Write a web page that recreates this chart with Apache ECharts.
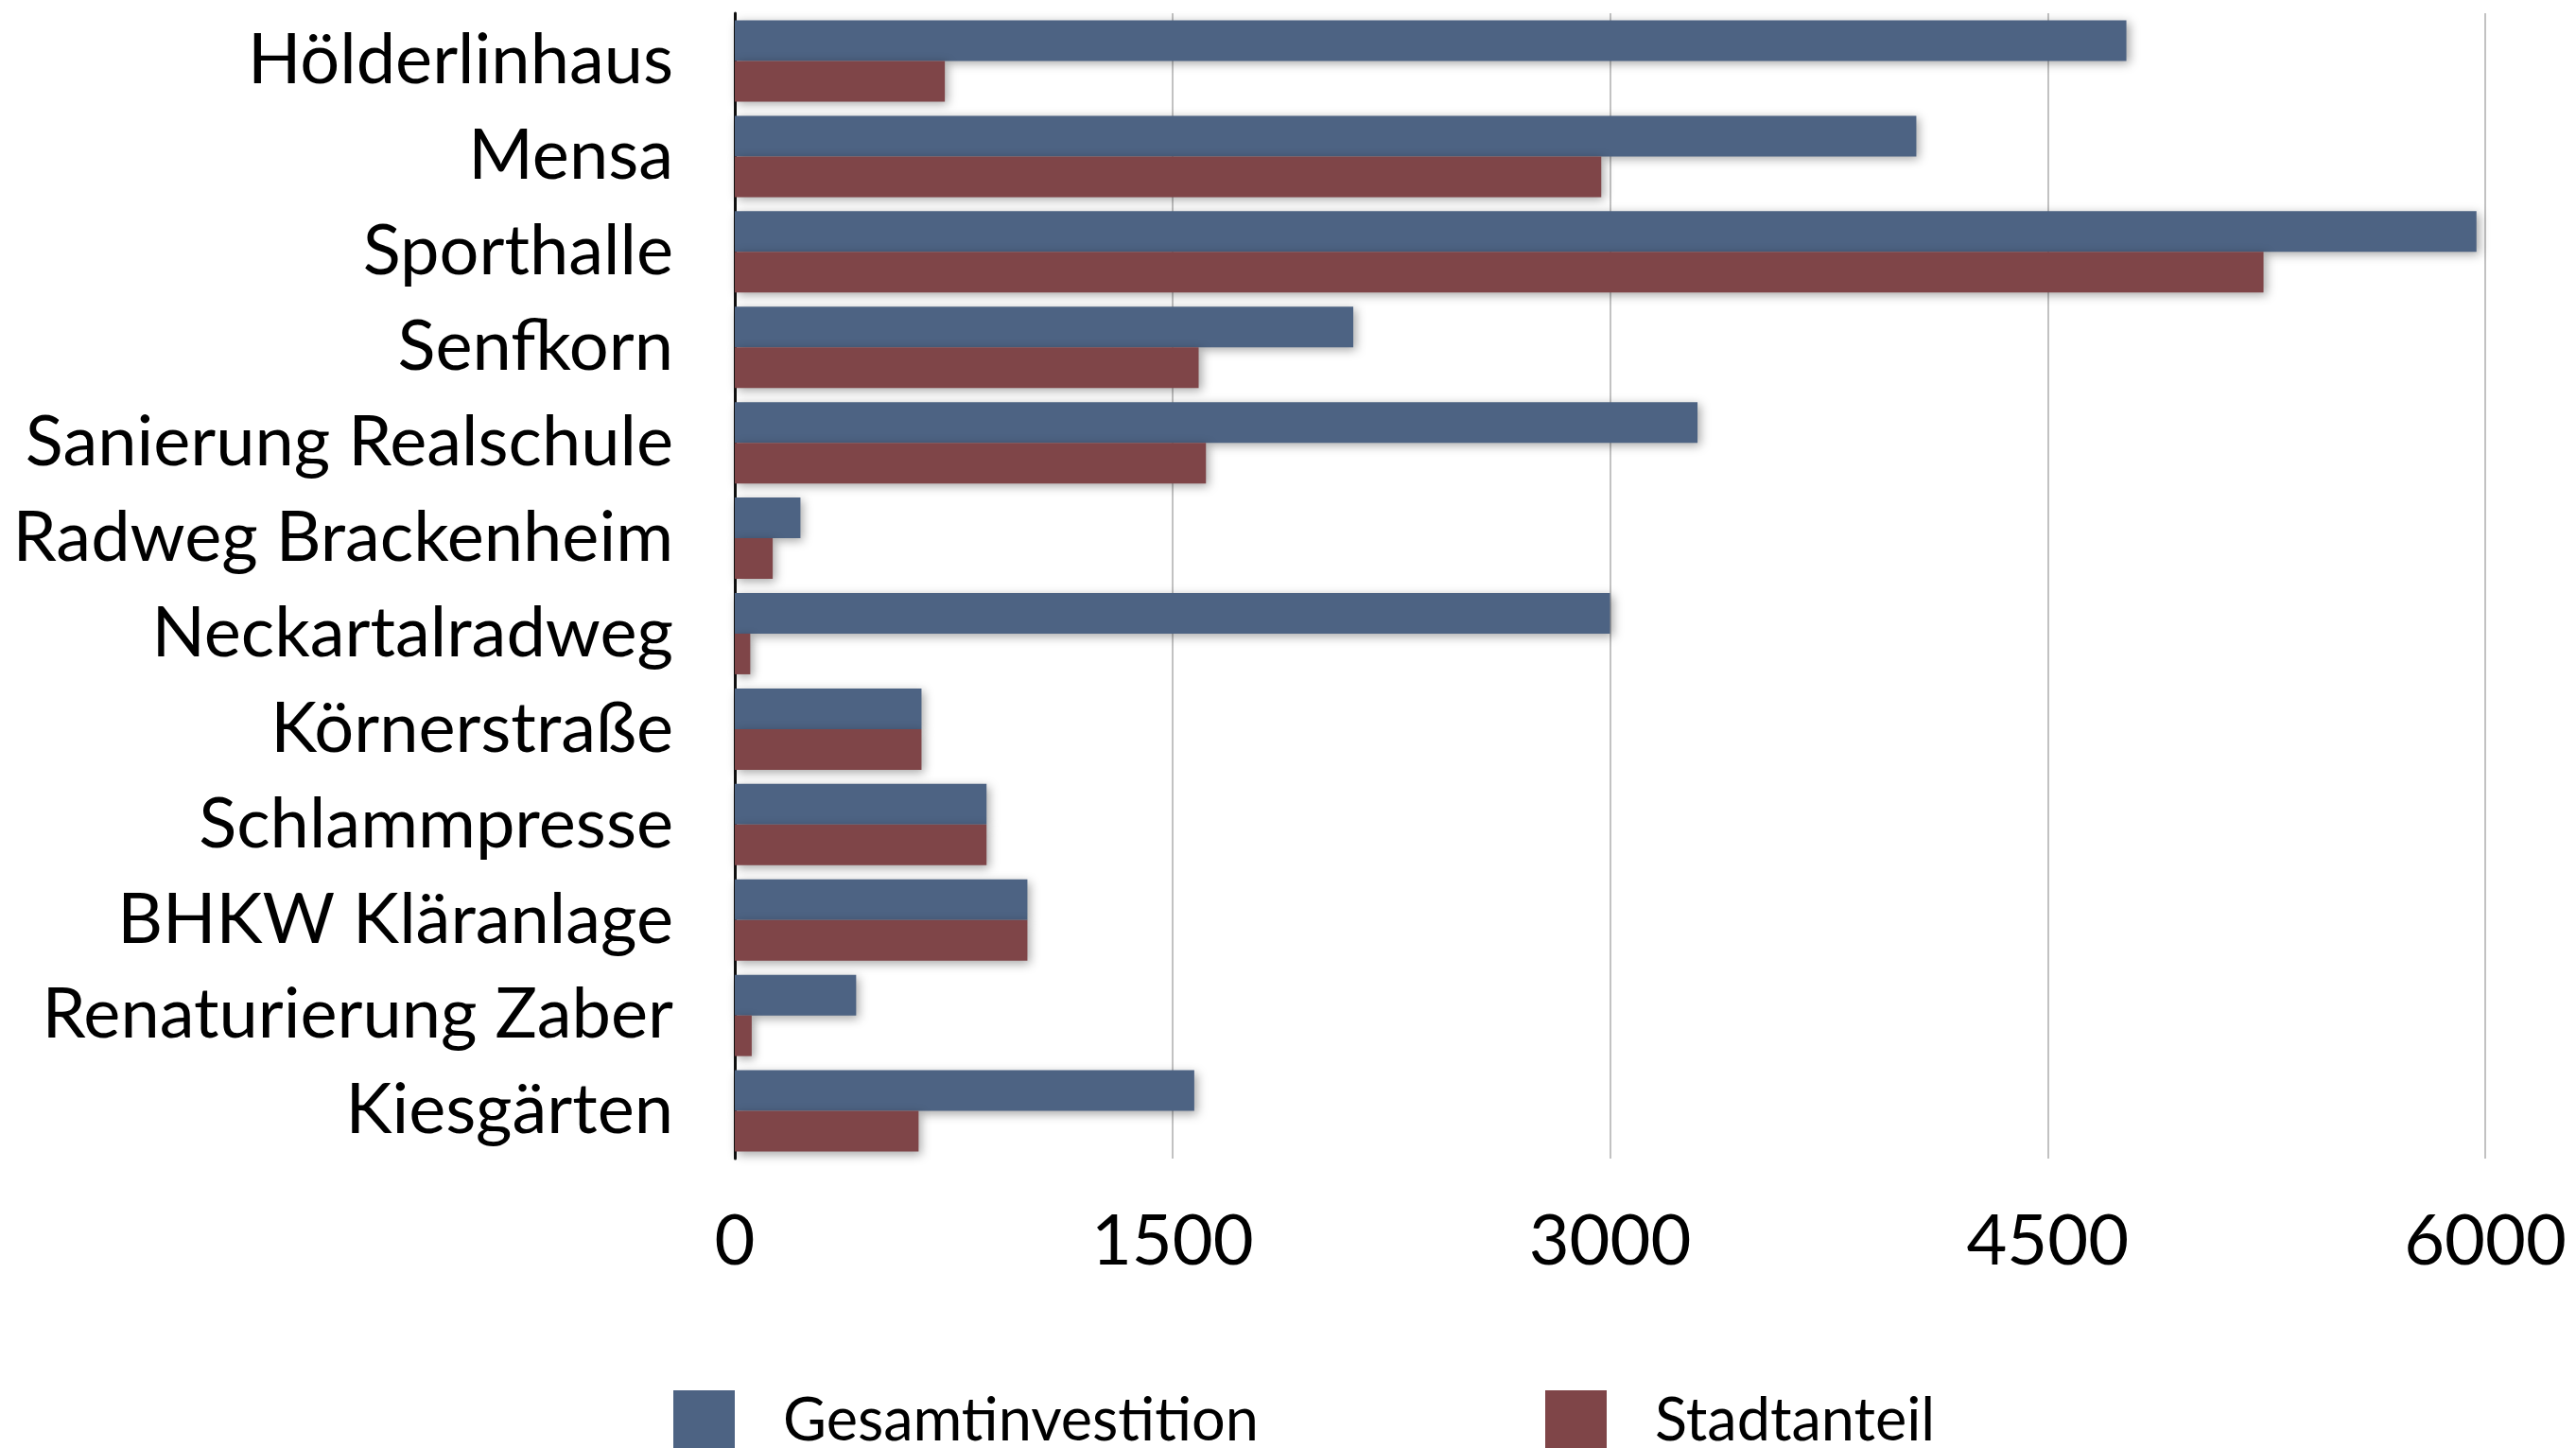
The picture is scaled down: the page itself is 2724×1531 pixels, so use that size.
<!DOCTYPE html>
<html>
<head>
<meta charset="utf-8">
<script src="https://cdn.jsdelivr.net/npm/echarts@6/dist/echarts.min.js"></script>
<style>
  html, body { margin: 0; padding: 0; background: #fff; }
  #chart { width: 2724px; height: 1531px; }
</style>
</head>
<body>
<div id="chart"></div>
<script>
const categories = [
  'Hölderlinhaus', 'Mensa', 'Sporthalle', 'Senfkorn', 'Sanierung Realschule',
  'Radweg Brackenheim', 'Neckartalradweg', 'Körnerstraße', 'Schlammpresse',
  'BHKW Kläranlage', 'Renaturierung Zaber', 'Kiesgärten'
]
const gesamtinvestition = [4770, 4050, 5970, 2120, 3300, 225, 3000, 640, 863, 1003, 416, 1575]
const stadtanteil = [720, 2970, 5240, 1590, 1615, 130, 53, 640, 863, 1003, 58, 630]
const xTicks = { min: 0, max: 6000, interval: 1500 }

const FONT = 'Lato'
const BLUE = '#4d6383'
const RED = '#7f4548'

const chart = echarts.init(document.getElementById('chart'), null, { renderer: 'canvas' })

function barSeries(name, data, color) {
  return {
    name,
    type: 'bar',
    data,
    barWidth: 43,
    barGap: '0%',
    itemStyle: {
      color,
      shadowBlur: 10,
      shadowColor: 'rgba(0,0,0,0.35)',
      shadowOffsetX: 3,
      shadowOffsetY: 3
    }
  }
}

const legendText = { fontFamily: FONT, fontSize: 63, color: '#000', padding: [0, 0, 0, 46] }

const option = {
  animation: false,
  backgroundColor: '#fff',
  grid: { left: 777, right: 96, top: 14, height: 1211, containLabel: false, outerBoundsMode: 'none' },
  legend: [
    {
      data: ['Gesamtinvestition'], left: 712, top: 1470, padding: 0,
      itemWidth: 65, itemHeight: 65, icon: 'rect', textStyle: legendText
    },
    {
      data: ['Stadtanteil'], left: 1634, top: 1470, padding: 0,
      itemWidth: 65, itemHeight: 65, icon: 'rect', textStyle: legendText
    }
  ],
  xAxis: {
    type: 'value',
    min: xTicks.min,
    max: xTicks.max,
    interval: xTicks.interval,
    axisLine: { show: false },
    axisTick: { show: false },
    axisLabel: {
      fontFamily: FONT, fontSize: 74, color: '#000', margin: 51,
      formatter: v => String(v)
    },
    splitLine: { lineStyle: { color: '#c2c2c2', width: 2 } }
  },
  yAxis: {
    type: 'category',
    inverse: true,
    data: categories,
    axisLine: { lineStyle: { color: '#111', width: 3 } },
    axisTick: { show: false },
    axisLabel: { fontFamily: FONT, fontSize: 74, color: '#000', margin: 65 }
  },
  series: [
    barSeries('Gesamtinvestition', gesamtinvestition, BLUE),
    barSeries('Stadtanteil', stadtanteil, RED)
  ]
}

chart.setOption(option)
</script>
</body>
</html>
